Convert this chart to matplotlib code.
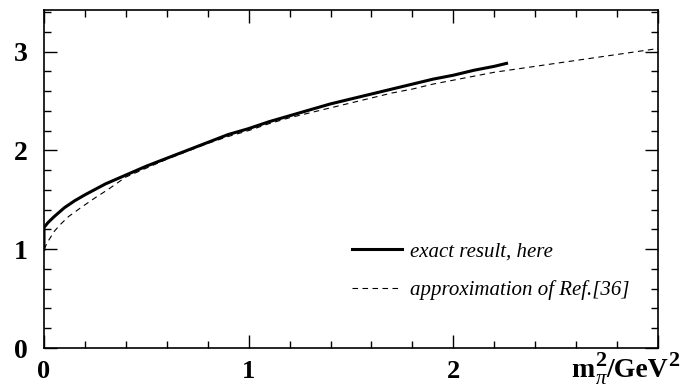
import matplotlib
matplotlib.use('Agg')
import matplotlib.pyplot as plt

plt.rcParams['font.family'] = 'Liberation Serif'

# exact result (solid)
exact_x = [0.0, 0.0, 0.02, 0.05, 0.1, 0.15, 0.2, 0.3, 0.4, 0.5, 0.6, 0.7, 0.8, 0.9,
           1.0, 1.1, 1.2, 1.3, 1.4, 1.5, 1.6, 1.7, 1.8, 1.9, 2.0, 2.1, 2.2, 2.26]
exact_y = [1.0, 1.22, 1.27, 1.33, 1.42, 1.49, 1.55, 1.66, 1.75, 1.84, 1.92, 2.00, 2.08, 2.16,
           2.22, 2.29, 2.35, 2.41, 2.47, 2.52, 2.57, 2.62, 2.67, 2.72, 2.76, 2.81, 2.85, 2.88]

# approximation (dashed)
approx_x = [0.0, 0.02, 0.05, 0.08, 0.12, 0.18, 0.25, 0.31, 0.4, 0.5, 0.6, 0.7, 0.8, 0.9,
            1.0, 1.1, 1.2, 1.3, 1.4, 1.5, 1.6, 1.7, 1.8, 1.9, 2.0, 2.2, 2.4, 2.6, 2.8, 3.0]
approx_y = [1.0, 1.08, 1.18, 1.25, 1.33, 1.42, 1.52, 1.60, 1.73, 1.82, 1.91, 1.99, 2.07, 2.14,
            2.20, 2.27, 2.33, 2.38, 2.43, 2.48, 2.53, 2.58, 2.62, 2.67, 2.71, 2.79, 2.85, 2.91, 2.97, 3.03]

labels = ['exact result, here', 'approximation of Ref.[36]']

W, H = 680, 388
fig = plt.figure(figsize=(6.8, 3.88), dpi=100)
ax = fig.add_axes([44/W, 40/H, 614/W, 338/H])

ax.plot(exact_x, exact_y, color='black', lw=2.2, label=labels[0])
ax.plot(approx_x, approx_y, color='black', lw=0.8, dashes=(5, 4), label=labels[1])

ax.set_xlim(0, 3.0)
ax.set_ylim(0, 3.42)

ax.set_xticks([0, 1, 2, 3])
ax.set_xticklabels(['0', '1', '2', ''])
ax.set_xticks([i * 0.2 for i in range(16)], minor=True)
ax.set_yticks([0, 1, 2, 3])
ax.set_yticks([i * 0.2 for i in range(18)], minor=True)

ax.tick_params(which='both', direction='in', top=True, right=True, width=1.0)
ax.tick_params(which='major', length=9.5)
ax.tick_params(which='minor', length=5)
ax.tick_params(axis='y', which='major', pad=12)
ax.tick_params(axis='x', which='major', pad=9)
for lab in ax.get_yticklabels():
    lab.set_fontsize(20)
    lab.set_fontweight('bold')
for lab in ax.get_xticklabels():
    lab.set_fontsize(19)
    lab.set_fontweight('bold')
for s in ax.spines.values():
    s.set_linewidth(1.2)

# axis title m_pi^2/GeV^2 built from pieces (large super/subscripts as in the original)
r = fig.canvas.get_renderer()
base = 377
pieces = [('m', 20, 0), ('2', 16, -11), ('/GeV', 20, 0), ('2', 16, -11)]
texts = []
for s, fs, dy in pieces:
    t = fig.text(0, 1 - (base + dy)/H, s, fontsize=fs, fontweight='bold', va='baseline')
    texts.append(t)
pi = fig.text(0, 1 - (base + 7)/H, '\u03c0', fontsize=15, style='italic', va='baseline')
widths = [t.get_window_extent(r).width for t in texts]
x = 679 - sum(widths)
for t, w in zip(texts, widths):
    t.set_x(x / W)
    if t is texts[1]:
        pi.set_x((x + 1) / W)
    x += w

ax.legend(loc='center left', bbox_to_anchor=(0.5016, 0.228), frameon=False,
          prop={'style': 'italic', 'size': 15}, handlelength=2.4, handletextpad=0.38,
          labelspacing=0.88, borderpad=0, borderaxespad=0)

fig.savefig('out.png', dpi=100)
